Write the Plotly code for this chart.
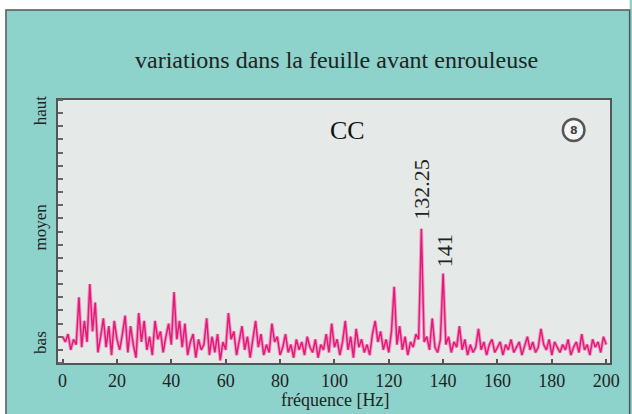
import plotly.graph_objects as go

# ---- data ----
freq = list(range(0, 201))
amplitude = [
    10, 8, 11, 5, 9, 7, 25, 6, 16, 8,
    30, 12, 23, 4, 10, 17, 6, 14, 3, 16,
    9, 5, 11, 18, 4, 14, 7, 2, 19, 8,
    16, 5, 10, 3, 16, 9, 12, 4, 10, 15,
    7, 27, 9, 16, 6, 15, 3, 8, 11, 2,
    9, 5, 7, 17, 3, 10, 4, 11, 1, 8,
    5, 19, 9, 12, 3, 8, 14, 5, 10, 2,
    9, 16, 6, 11, 3, 7, 4, 15, 8, 10,
    3, 6, 11, 4, 7, 2, 9, 5, 8, 3,
    10, 6, 4, 9, 2, 7, 5, 11, 4, 15,
    6, 9, 3, 8, 16, 5, 10, 2, 13, 6,
    9, 4, 7, 3, 11, 16, 8, 12, 5, 9,
    4, 12, 29, 7, 14, 5, 10, 3, 8, 6,
    11, 9, 51, 8, 10, 5, 17, 6, 4, 9,
    34, 7, 10, 4, 8, 6, 14, 5, 9, 3,
    7, 4, 6, 13, 5, 8, 3, 7, 9, 4,
    6, 8, 3, 7, 5, 9, 4, 6, 8, 3,
    7, 10, 5, 8, 4, 6, 13, 7, 5, 9,
    3, 8, 6, 4, 7, 5, 9, 3, 6, 8,
    4, 11, 5, 7, 3, 9, 6, 8, 4, 10,
    7,
]
x_ticks = [0, 20, 40, 60, 80, 100, 120, 140, 160, 180, 200]
level_vals = [6.8, 50.6, 95]
level_text = ["bas", "moyen", "haut"]
peak_labels = ["132.25", "141"]
peak_freqs = [132.25, 140.4]
peak_heights = [51, 34]

TEAL = "rgb(141,211,203)"
PLOTBG = "rgb(229,234,232)"
PINK = "rgb(232,24,122)"
FONT = "Liberation Serif"

W, H = 632, 414
L, R, T, B = 58, 12, 100, 51
pw, ph = W - L - R, H - T - B


def px_x(p):  # p in window pixels
    return (p - L) / pw


def px_y(p):
    return (H - B - p) / ph


fig = go.Figure()
fig.add_trace(go.Scatter(x=freq, y=amplitude, mode="lines",
                         line=dict(color="rgba(232,24,122,0.35)", width=3.5),
                         hoverinfo="skip", showlegend=False))
fig.add_trace(go.Scatter(x=freq, y=amplitude, mode="lines",
                         line=dict(color=PINK, width=1.5), showlegend=False))

fig.update_layout(
    width=W, height=H,
    margin=dict(l=L, r=R, t=T, b=B),
    paper_bgcolor=TEAL,
    plot_bgcolor=PLOTBG,
    font=dict(family=FONT, color="#222", size=18),
    xaxis=dict(range=[-1.7, 201.4], tickvals=x_ticks, ticks="inside",
               ticklen=4, tickcolor="#555", tickwidth=2,
               showgrid=False, zeroline=False, showline=True, mirror=True,
               linecolor="#555", linewidth=2,
               tickfont=dict(family=FONT, size=18, color="#222")),
    yaxis=dict(range=[0, 100], tickvals=level_vals, ticktext=level_text,
               tickangle=-90, ticks="", showgrid=False, zeroline=False,
               showline=True, mirror=True, linecolor="#555", linewidth=2,
               ticklabelstandoff=3,
               tickfont=dict(family=FONT, size=17, color="#222"),
               minor=dict(ticks="inside", dtick=5, tick0=0, ticklen=5,
                          tickcolor="#666", tickwidth=2, showgrid=False)),
    shapes=[
        # white page strips above and left of the teal panel
        dict(type="rect", xref="paper", yref="paper", layer="below",
             x0=px_x(-5), x1=px_x(640), y0=px_y(10), y1=px_y(-5),
             fillcolor="white", line=dict(width=0)),
        dict(type="rect", xref="paper", yref="paper", layer="below",
             x0=px_x(-5), x1=px_x(5), y0=px_y(420), y1=px_y(-5),
             fillcolor="white", line=dict(width=0)),
        # panel border
        dict(type="rect", xref="paper", yref="paper", layer="below",
             x0=px_x(5), x1=px_x(640), y0=px_y(420), y1=px_y(10),
             fillcolor="rgba(0,0,0,0)", line=dict(color="#555", width=1.5)),
        dict(type="circle", xref="paper", yref="paper",
             x0=px_x(572), x1=px_x(594), y0=px_y(141), y1=px_y(119),
             line=dict(color="#555", width=2.5), fillcolor="rgb(245,247,246)"),
    ],
    annotations=[
        dict(text="variations dans la feuille avant enrouleuse",
             xref="paper", yref="paper", x=px_x(342), y=px_y(60),
             xanchor="center", yanchor="middle",
             showarrow=False, font=dict(family=FONT, size=24, color="#222")),
        dict(text="fréquence [Hz]", xref="paper", yref="paper",
             x=px_x(340), y=px_y(400), xanchor="center", yanchor="middle",
             showarrow=False, font=dict(family=FONT, size=18, color="#222")),
        dict(text="CC", xref="paper", yref="paper", x=px_x(353), y=px_y(130),
             xanchor="center", yanchor="middle",
             showarrow=False, font=dict(family=FONT, size=26, color="#111")),
        dict(text="<b>8</b>", xref="paper", yref="paper", x=px_x(583),
             y=px_y(130), xanchor="center", yanchor="middle", showarrow=False,
             font=dict(family="DejaVu Sans", size=11, color="#444")),
        dict(text=peak_labels[0], x=peak_freqs[0], y=peak_heights[0] + 2.5,
             textangle=-90, yanchor="bottom", showarrow=False,
             font=dict(family=FONT, size=22, color="#222")),
        dict(text=peak_labels[1], x=peak_freqs[1], y=peak_heights[1] + 1.5,
             textangle=-90, yanchor="bottom", showarrow=False,
             font=dict(family=FONT, size=22, color="#222")),
    ],
)

fig.write_html("out.html", config={"displayModeBar": False},
               post_script="document.body.style.margin='0';"
                           "document.body.style.overflow='hidden';")
